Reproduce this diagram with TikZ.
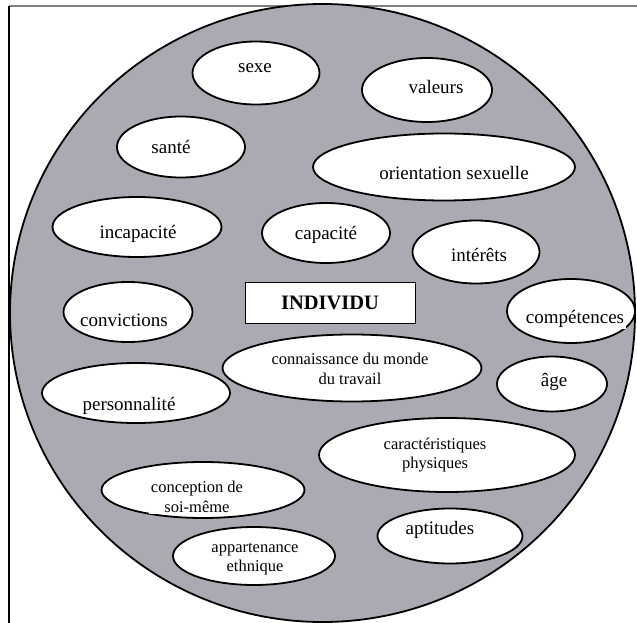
\documentclass[tikz,border=0pt]{standalone}
\usepackage{fontspec}
\setmainfont{Liberation Serif}
\usepackage{xcolor}
\usetikzlibrary{shapes.geometric,calc}
\definecolor{fondgris}{RGB}{170,170,178}

\begin{document}
\begin{tikzpicture}[x=1pt,y=-1pt,
	bulle/.style={ellipse, draw, line width=1.8pt, fill=white, inner sep=0pt},
	texte/.style={fill=white, inner xsep=2pt, inner ysep=1pt, align=center, font=\fontsize{19}{21}\selectfont},
	petit/.style={font=\fontsize{16.5}{19.5}\selectfont},
	boite/.style={draw, line width=0.8pt, fill=white, minimum width=170pt, minimum height=41pt, font=\fontsize{20.5}{22}\selectfont\bfseries}]
		\useasboundingbox (0,0) rectangle (637,623);
		\draw[gray, line width=1.5pt](9,6)--(637,6);
		\draw[line width=1.5pt](9,6)--(9,623);
		\draw[line width=1.8pt, fill=fondgris](322.5,313) ellipse [x radius=312.5pt, y radius=309pt];
		% les bulles
		\node[bulle, minimum width=127pt, minimum height=63pt](sexe) at (256,73){};
		\node[bulle, minimum width=130pt, minimum height=64pt](valeurs) at (427,90){};
		\node[bulle, minimum width=128pt, minimum height=61pt](sante) at (181,147){};
		\node[bulle, minimum width=262pt, minimum height=67pt](orientation) at (444,167){};
		\node[bulle, minimum width=169pt, minimum height=60pt](incapacite) at (137,227){};
		\node[bulle, minimum width=128pt, minimum height=60pt](capacite) at (326,233){};
		\node[bulle, minimum width=127pt, minimum height=63pt](interets) at (476,252){};
		\node[bulle, minimum width=129pt, minimum height=60pt](convictions) at (128,312){};
		\node[bulle, minimum width=128pt, minimum height=64pt](competences) at (571,311){};
		\node[bulle, minimum width=259pt, minimum height=67pt](connaissance) at (352,368){};
		\node[bulle, minimum width=188pt, minimum height=60pt](personnalite) at (136,393){};
		\node[bulle, minimum width=110pt, minimum height=55pt](age) at (552,384){};
		\node[bulle, minimum width=256pt, minimum height=74pt](caracteristiques) at (447,455){};
		\node[bulle, minimum width=203pt, minimum height=56pt](conception) at (203,490){};
		\node[bulle, minimum width=145pt, minimum height=55pt](aptitudes) at (450,536){};
		\node[bulle, minimum width=162pt, minimum height=58pt](appartenance) at (254,556){};
		\node[boite](individu) at (330,302.5){INDIVIDU};
		% les textes
		\node[texte](t-sexe) at ($(sexe)+(-1,-5)$){sexe};
		\node[texte](t-valeurs) at ($(valeurs)+(9,-3)$){valeurs};
		\node[texte](t-sante) at ($(sante)+(-10,0)$){santé};
		\node[texte](t-orientation) at ($(orientation)+(10,6)$){orientation sexuelle};
		\node[texte](t-incapacite) at ($(incapacite)+(1,7)$){incapacité};
		\node[texte](t-capacite) at ($(capacite)+(0,2)$){capacité};
		\node[texte](t-interets) at ($(interets)+(3,3)$){intérêts};
		\node[texte](t-convictions) at ($(convictions)+(-4,8)$){convictions};
		\node[texte](t-competences) at ($(competences)+(4,8)$){compétences};
		\node[texte, petit](t-connaissance) at ($(connaissance)+(-2,1)$){connaissance du monde\\du travail};
		\node[texte](t-personnalite) at ($(personnalite)+(-7,13)$){personnalité};
		\node[texte](t-age) at ($(age)+(2,-2)$){âge};
		\node[texte, petit](t-caracteristiques) at ($(caracteristiques)+(-12,0)$){caractéristiques\\physiques};
		\node[texte, petit](t-conception) at ($(conception)+(-6,7)$){conception de\\soi-même};
		\node[texte](t-aptitudes) at ($(aptitudes)+(-10,-6)$){aptitudes};
		\node[texte, petit](t-appartenance) at ($(appartenance)+(1,3)$){appartenance\\ethnique};
		\end{tikzpicture}
\end{document}
